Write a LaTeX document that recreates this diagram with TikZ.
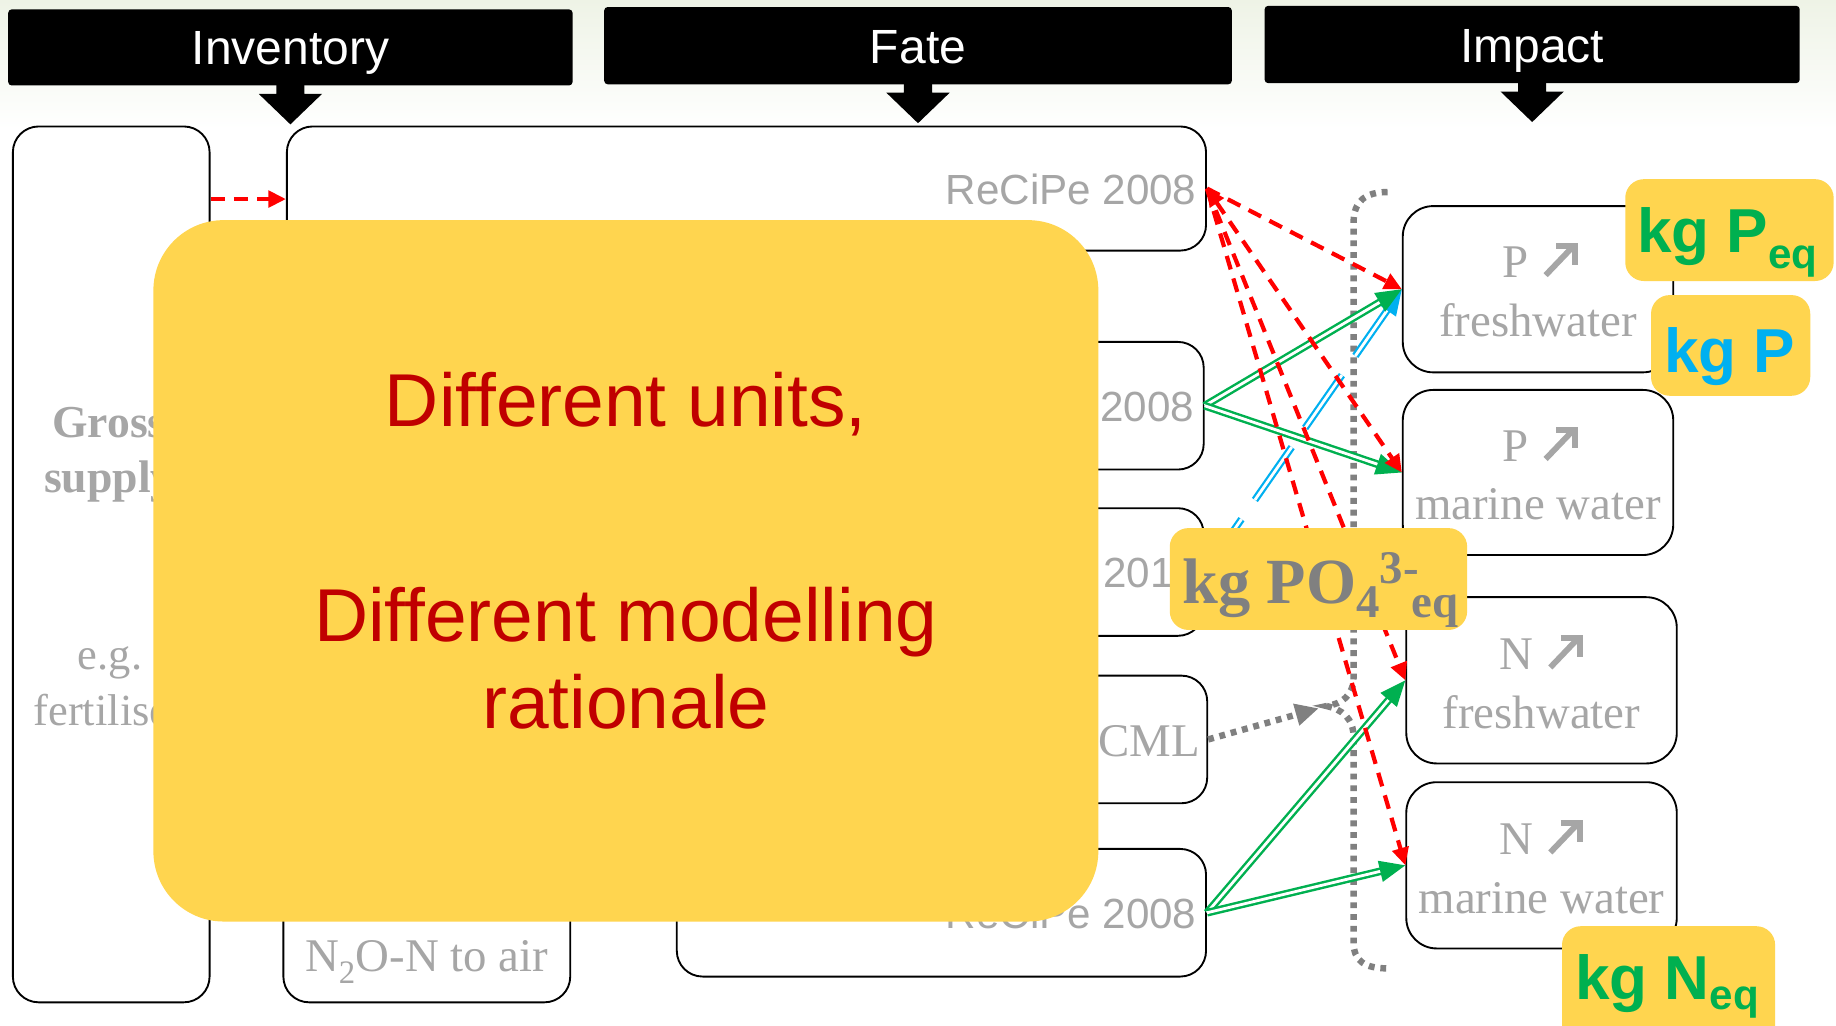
\documentclass[tikz,border=0pt]{standalone}
\usepackage{fontspec}
\setmainfont{Liberation Serif}
\setsansfont{Liberation Sans}
\usetikzlibrary{arrows.meta}
\definecolor{ylw}{HTML}{FFD54F}
\definecolor{txtgray}{HTML}{A6A6A6}
\definecolor{dred}{HTML}{C00000}
\definecolor{grn}{HTML}{00B050}
\definecolor{blu}{HTML}{00B0F0}
\definecolor{dgray}{HTML}{808080}
\definecolor{topbg}{HTML}{EEF3E6}
\newcommand\fsz[1]{\fontsize{#1}{#1}\selectfont}
\newcommand\hdrarrow[1]{\fill (#1.south) ++(-12,-1) -- ++(0,8) -- ++(-15,0) -- ++(27,26) -- ++(27,-26) -- ++(-15,0) -- ++(0,-8) -- cycle;}
% bold "increase" arrow next to a text, given the base point (x,y) of its lower-left end
\newcommand\incarrow[2]{%
  \draw[txtgray, line width=5pt] (#1,#2) -- ++(22,-23);
  \draw[txtgray, line width=5pt, miter limit=10] (#1+9,#2-25) -- (#1+25,#2-25) -- (#1+25,#2-9);}
\tikzset{
  hdr/.style={fill=black, rounded corners=3pt, inner sep=0pt},
  hdrtxt/.style={text=white, inner sep=0pt, font=\sffamily\fsz{41}, anchor=base},
  box/.style={draw=black, line width=1.6pt, rounded corners=22pt, inner sep=0pt},
  ibox/.style={box, rounded corners=26pt},
  ylab/.style={fill=ylw, rounded corners=16pt, inner sep=0pt},
  gsans/.style={text=txtgray, inner sep=0pt, font=\sffamily\fsz{36}},
  gserif/.style={text=txtgray, inner sep=0pt, font=\fsz{40}},
  bigtxt/.style={text=dred, inner sep=0pt, font=\sffamily\fsz{64}, anchor=base},
  reddash/.style={draw=red, line width=3.6pt, dash pattern=on 12pt off 8pt, -{Triangle[length=15pt,width=14pt]}},
  grnarr/.style={draw=grn, double=white, double distance=2.4pt, line width=2.1pt, -{Triangle[length=22pt,width=18pt]}},
  bluarr/.style={draw=blu, double=white, double distance=2.4pt, line width=1.9pt, dash pattern=on 55pt off 20pt, -{Triangle[length=22pt,width=18pt]}},
  dotline/.style={draw=dgray, line width=5.5pt, dash pattern=on 5pt off 5pt},
  dotarr/.style={dotline, -{Triangle[length=20pt,width=18pt]}}
}
\begin{document}
\begin{tikzpicture}[x=1pt,y=-1pt]
\useasboundingbox (0,0) rectangle (1568,876);
\clip (0,0) rectangle (1568,876);
\fill[white] (0,0) rectangle (1568,876);
\shade[top color=topbg, bottom color=white] (0,0) rectangle (1568,110);

% headers
\node[hdr, minimum width=482pt, minimum height=65pt] (hInv) at (248,40.5) {};
\node[hdr, minimum width=536pt, minimum height=66pt] (hFate) at (784,39) {};
\node[hdr, minimum width=457pt, minimum height=66pt] (hImp) at (1308.5,38) {};
\node[hdrtxt] at (248,55) {Inventory};
\node[hdrtxt] at (784,54) {Fate};
\node[hdrtxt] at (1308.5,53) {Impact};
\hdrarrow{hInv}
\hdrarrow{hFate}
\hdrarrow{hImp}

% left / inventory / fate boxes
\node[box, minimum width=168pt, minimum height=748pt] (gross) at (95,482) {};
\node[box, minimum width=785pt, minimum height=106pt] (inv1) at (637.5,161) {};
\node[box, minimum width=245pt, minimum height=156pt] (invB) at (364.5,778) {};
\node[box, minimum width=450pt, minimum height=109pt] (f2) at (803,346.5) {};
\node[box, minimum width=450pt, minimum height=109pt] (f3) at (803,488.5) {};
\node[box, minimum width=453pt, minimum height=109pt] (f4) at (804.5,631.5) {};
\node[box, minimum width=452pt, minimum height=109pt] (f5) at (804,779.5) {};

\node[gsans, anchor=base east] at (1022,175) {ReCiPe 2008};
\node[gsans, anchor=base east] at (1020,360) {2008};
\node[gsans, anchor=base west] at (942,502) {201};
\node[gserif, anchor=base east] at (1025,646) {CML};
\node[gsans, anchor=base east] at (1022,793) {ReCiPe 2008};
\node[gserif, anchor=base] at (364.5,830) {N\textsubscript{2}O-N to air};
\node[text=txtgray, inner sep=0pt, font=\bfseries\fsz{39}, anchor=base] at (93,374) {Gross};
\node[text=txtgray, inner sep=0pt, font=\bfseries\fsz{39}, anchor=base] at (93,421) {supply};
\node[text=txtgray, inner sep=0pt, font=\fsz{38}, anchor=base] at (94,572) {e.g.};
\node[text=txtgray, inner sep=0pt, font=\fsz{38}, anchor=base] at (93,620) {fertiliser};

% impact boxes
\node[ibox, minimum width=231pt, minimum height=142pt] (i1) at (1313.5,247) {};
\node[ibox, minimum width=231pt, minimum height=141pt] (i2) at (1313.5,403.5) {};
\node[ibox, minimum width=231pt, minimum height=142pt] (i3) at (1316.5,581) {};
\node[ibox, minimum width=231pt, minimum height=142pt] (i4) at (1316.5,739) {};
\node[gserif, anchor=base east] at (1306,237) {P};
\incarrow{1320}{235}
\node[gserif, anchor=base] at (1313.5,287) {freshwater};
\node[gserif, anchor=base east] at (1306,394) {P};
\incarrow{1320}{392}
\node[gserif, anchor=base] at (1313.5,444) {marine water};
\node[gserif, anchor=base east] at (1310,572) {N};
\incarrow{1324}{570}
\node[gserif, anchor=base] at (1316.5,622) {freshwater};
\node[gserif, anchor=base east] at (1310,730) {N};
\incarrow{1324}{728}
\node[gserif, anchor=base] at (1316.5,780) {marine water};

% dotted brace
\coordinate (bt) at (1185,164);
\coordinate (btip) at (1133,603);
\coordinate (bb) at (1185,827);
\draw[dotline] (bt) .. controls (1166,164) and (1156,172) .. (1156,190) -- (1156,578)
  .. controls (1156,594) and (1146,601) .. (btip)
  .. controls (1146,606) and (1156,613) .. (1156,630) -- (1156,805)
  .. controls (1156,821) and (1166,827) .. (bb);
\draw[dotarr, shorten >=7pt] (f4.east) -- (btip);

% connectors
\draw[bluarr] (f3.east) -- (i1.west);
\draw[grnarr] (f2.east) -- (i1.west);
\draw[grnarr] (f2.east) -- (i2.west);
\draw[grnarr] (f5.east) -- (i3.west);
\draw[grnarr] (f5.east) -- (i4.west);
\draw[reddash] (inv1.east) -- (i1.west);
\draw[reddash, {Triangle[length=15pt,width=14pt]}-{Triangle[length=15pt,width=14pt]}] (inv1.east) -- (i2.west);
\draw[reddash] (inv1.east) -- (i3.west);
\draw[reddash] (inv1.east) -- (i4.west);
\draw[reddash] (gross.east |- 0,170) -- (inv1.west |- 0,170);

% yellow overlays
\node[ylab, rounded corners=60pt, minimum width=807pt, minimum height=599pt] (big) at (534.5,487.5) {};
\node[bigtxt] at (big.center |- 0,364) {Different units,};
\node[bigtxt] at (big.center |- 0,548) {Different modelling};
\node[bigtxt] at (big.center |- 0,622) {rationale};

\node[ylab, minimum width=178pt, minimum height=87pt] (lPeq) at (1477,196.5) {};
\node[ylab, minimum width=136pt, minimum height=86pt] (lP) at (1478,295) {};
\node[ylab, minimum width=254pt, minimum height=87pt] (lPO) at (1126,494.5) {};
\node[ylab, minimum width=182pt, minimum height=110pt] (lNeq) at (1425,846) {};

\node[inner sep=0pt, anchor=base west, text=grn, font=\sffamily\bfseries\fsz{53}] at (1398,216) {kg P\raisebox{-13pt}{\fsz{36}eq}};
\node[inner sep=0pt, anchor=base west, text=blu, font=\sffamily\bfseries\fsz{53}] at (1421,318) {kg P};
\node[inner sep=0pt, anchor=base west, text=grn, font=\sffamily\bfseries\fsz{53}] at (1345,854) {kg N\raisebox{-8pt}{\fsz{36}eq}};
\node[inner sep=0pt, anchor=base west, text=dgray, font=\bfseries\fsz{55}] at (1010,515) {kg PO\raisebox{-12pt}{\fsz{40}4}\raisebox{17pt}{\fsz{40}3-}\kern-6pt\raisebox{-12pt}{\fsz{40}eq}};
\end{tikzpicture}
\end{document}
